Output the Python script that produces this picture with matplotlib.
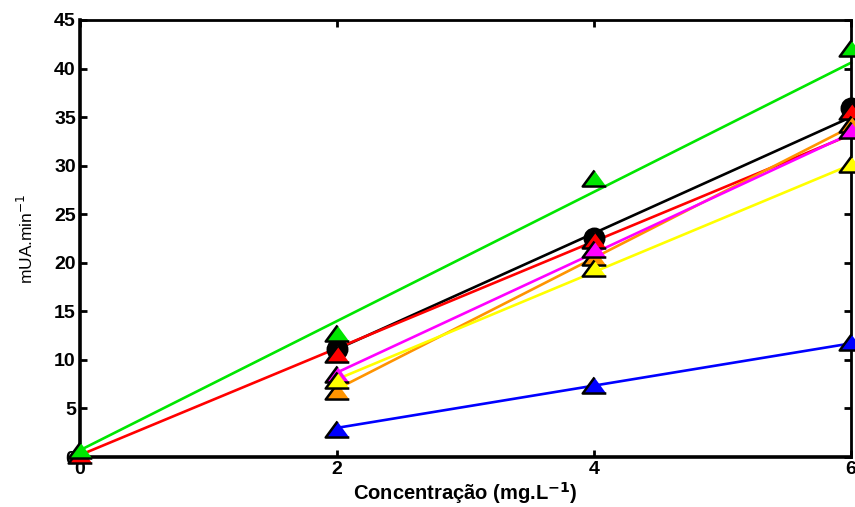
import matplotlib
matplotlib.use("Agg")
import matplotlib.pyplot as plt

# measured points (concentration mg/L vs mUA/min)
x_all = [0, 2, 4, 6]
x_std = [2, 4, 6]

green_y = [0.7, 12.8, 28.7, 42.1]
red_y = [0.2, 10.6, 22.3, 35.6]
black_y = [11.1, 22.5, 35.9]
orange_y = [6.8, 20.6, 34.3]
magenta_y = [8.5, 21.4, 33.7]
yellow_y = [7.9, 19.5, 30.2]
blue_y = [2.9, 7.4, 11.8]

# fitted lines, value at first and last concentration
fit_x_full = [0, 6]
fit_x_std = [2, 6]
green_fit = [0.7, 40.6]
red_fit = [0.2, 33.2]
black_fit = [11.1, 35.0]
orange_fit = [7.0, 34.0]
magenta_fit = [8.7, 33.3]
yellow_fit = [8.0, 30.1]
blue_fit = [3.0, 11.7]

xticks = [0, 2, 4, 6]
yticks = [0, 5, 10, 15, 20, 25, 30, 35, 40, 45]

plt.rcParams['font.family'] = ['Liberation Sans', 'DejaVu Sans']

fig = plt.figure(figsize=(8.55, 5.07), dpi=100)
ax = fig.add_axes([80 / 855, 50 / 507, 771 / 855, 437 / 507])

tri = [(0, 0.68), (-1, -0.68), (1, -0.68)]
lw = 1.9

series = [
    (x_std, black_y, fit_x_std, black_fit, 'black', 'o', 14),
    (x_all, red_y, fit_x_full, red_fit, '#ff0000', tri, 17),
    (x_std, orange_y, fit_x_std, orange_fit, '#ff9400', tri, 17),
    (x_std, magenta_y, fit_x_std, magenta_fit, '#ff00ff', tri, 17),
    (x_std, yellow_y, fit_x_std, yellow_fit, '#ffff00', tri, 17),
    (x_all, green_y, fit_x_full, green_fit, '#00e600', tri, 17),
    (x_std, blue_y, fit_x_std, blue_fit, '#0000ff', tri, 17),
]

# lines first, then markers on top
for xs, ys, fx, fy, col, mk, ms in series:
    ax.plot(fx, fy, color=col, lw=lw, zorder=2, clip_on=False)
for xs, ys, fx, fy, col, mk, ms in series:
    ax.plot(xs, ys, linestyle='none', marker=mk, markersize=ms,
            markerfacecolor=col, markeredgecolor='black',
            markeredgewidth=1.8, zorder=3, clip_on=False)

ax.set_xlim(0, 6)
ax.set_ylim(0, 45)
ax.set_xticks(xticks)
ax.set_yticks(yticks)
ax.tick_params(direction='in', length=5, width=2, top=True, right=True,
               labelsize=14, pad=3)
for lab in ax.get_xticklabels() + ax.get_yticklabels():
    lab.set_fontweight('bold')
for side in ['left', 'bottom']:
    ax.spines[side].set_linewidth(2.6)
for side in ['top', 'right']:
    ax.spines[side].set_linewidth(2.0)

ax.set_xlabel('Concentração (mg.L$^{\\mathbf{-1}}$)', fontsize=14.5,
              fontweight='bold')
ax.xaxis.label.set_verticalalignment('center')
ax.xaxis.set_label_coords(0.5, -0.083)
ax.set_ylabel('mUA.min$^{-1}$', fontsize=12.5)
ax.yaxis.set_label_coords(-0.057, 0.5)

fig.savefig('out.png', dpi=100)
